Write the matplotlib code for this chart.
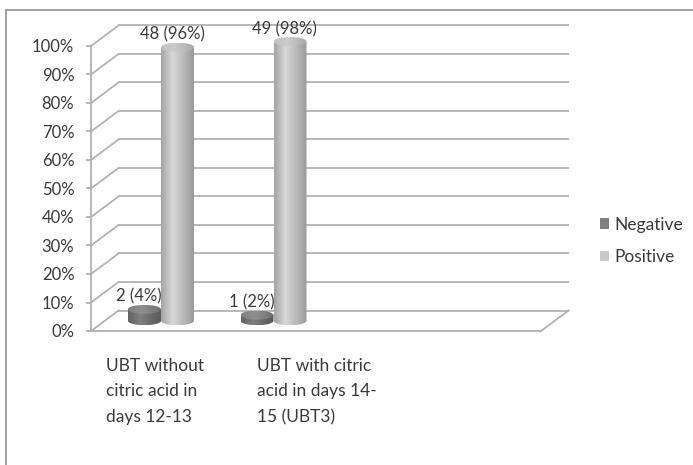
import numpy as np
import matplotlib
matplotlib.use("Agg")
import matplotlib.pyplot as plt
from matplotlib.patches import Polygon, Ellipse, Patch
from matplotlib.lines import Line2D

plt.rcParams['font.family'] = ['Lato', 'DejaVu Sans']

# ---- data ----
categories = ["UBT without\ncitric acid in\ndays 12-13",
              "UBT with citric\nacid in days 14-\n15 (UBT3)"]
series_names = ["Negative", "Positive"]
counts = {"Negative": [2, 1], "Positive": [48, 49]}
percents = {"Negative": [4, 2], "Positive": [96, 98]}
yticks = [0, 10, 20, 30, 40, 50, 60, 70, 80, 90, 100]

# ---- style ----
W, H = 693, 465
FLOOR_SLOTS = 4            # category slots along the floor
SLOT_PX = 112.5            # px per slot
X0_PX = 91                 # front-left corner of the plot box (px from left)
Y0_PX = 331                # front floor level (px from top)
PCT_PX = 2.85              # px per percent
DEPTH_X = 27.5 / SLOT_PX   # depth offset in slot units
DEPTH_Y = 20.5 / PCT_PX    # depth offset in percent units
CYL_W = 33 / SLOT_PX       # cylinder diameter
ELL_H = 9 / PCT_PX         # apparent height of cylinder end ellipses

grid_c = "#b2b2b2"
text_c = "#3a3a3a"
fs_small = 12
fs_big = 12.5

body_profiles = {
    "Negative": ([0.0, 0.35, 1.0], [0.38, 0.50, 0.34]),
    "Positive": ([0.0, 0.35, 1.0], [0.64, 0.85, 0.60]),
}
top_profiles = {
    "Negative": ([0.0, 0.4, 1.0], [0.50, 0.56, 0.44]),
    "Positive": ([0.0, 0.4, 1.0], [0.76, 0.80, 0.66]),
}
legend_colors = {"Negative": "#7f7f7f", "Positive": "#c8c8c8"}

fig = plt.figure(figsize=(W / 100, H / 100), dpi=100)
ax = fig.add_axes([0, 0, 1, 1])
ax.set_xlim(-X0_PX / SLOT_PX, (W - X0_PX) / SLOT_PX)
ax.set_ylim(-(H - Y0_PX) / PCT_PX, Y0_PX / PCT_PX)
ax.axis("off")

# chart frame
fig.add_artist(Line2D([6 / W, 1.0], [1 - 10 / H, 1 - 10 / H], color="#9a9a9a", lw=1.3))
fig.add_artist(Line2D([6 / W, 6 / W], [0.0, 1 - 10 / H], color="#9a9a9a", lw=1.3))

# back wall gridlines, left wall diagonals, ticks and labels
for v in yticks:
    ax.plot([DEPTH_X, FLOOR_SLOTS + DEPTH_X], [v + DEPTH_Y, v + DEPTH_Y],
            color=grid_c, lw=1.3, zorder=1, solid_capstyle="butt")
    ax.plot([0, DEPTH_X], [v, v + DEPTH_Y], color=grid_c, lw=1.3, zorder=1)
    ax.plot([-4 / SLOT_PX, 0], [v, v], color=grid_c, lw=1.3, zorder=1)
    ax.annotate(f"{v}%", (0, v), xytext=(-12, -1), textcoords="offset points",
                ha="right", va="center", fontsize=fs_small, color=text_c)

# front axis line and floor
ax.plot([0, 0], [0, yticks[-1]], color=grid_c, lw=1.3, zorder=1)
ax.plot([0, FLOOR_SLOTS], [0, 0], color=grid_c, lw=1.3, zorder=1)
ax.plot([FLOOR_SLOTS, FLOOR_SLOTS + DEPTH_X], [0, DEPTH_Y], color=grid_c, lw=1.3, zorder=1)


def gradient_fill(patch, x_left, x_right, y_bottom, y_top, profile, z):
    ax.add_patch(patch)
    t = np.linspace(0, 1, 200)
    g = np.interp(t, *profile)
    img = np.dstack([g, g, g]).reshape(1, -1, 3)
    im = ax.imshow(img, extent=[x_left, x_right, y_bottom, y_top],
                   aspect="auto", interpolation="bilinear", zorder=z)
    im.set_clip_path(patch)


def cylinder(xc, base, top, name, z):
    half = CYL_W / 2
    theta = np.linspace(0, -np.pi, 60)
    arc = np.column_stack([xc + half * np.cos(theta), base + ELL_H / 2 * np.sin(theta)])
    outline = np.vstack([[[xc - half, top], [xc + half, top], [xc + half, base]], arc])
    body = Polygon(outline, closed=True, facecolor="none", edgecolor="none", zorder=z)
    gradient_fill(body, xc - half, xc + half, base - ELL_H / 2, top,
                  body_profiles[name], z)
    cap = Ellipse((xc, top), CYL_W, ELL_H, facecolor="none", edgecolor="none", zorder=z + 0.1)
    gradient_fill(cap, xc - half, xc + half, top - ELL_H / 2, top + ELL_H / 2,
                  top_profiles[name], z + 0.1)


for i, cat in enumerate(categories):
    center = i + 0.5 + DEPTH_X / 2
    base = DEPTH_Y / 2
    for k, name in enumerate(series_names):
        xc = center + (k - 0.5) * CYL_W
        val = percents[name][i]
        top = base + val
        cylinder(xc, base, top, name, 3 + k)
        ax.annotate(f"{counts[name][i]} ({val}%)", (xc, top), xytext=(-4, 9),
                    textcoords="offset points", ha="center", va="center",
                    fontsize=fs_small, color=text_c, zorder=10)

# category labels under the floor
label_x = [0.133, 1.476]
for i, cat in enumerate(categories):
    ax.text(label_x[i], -9.5, cat, ha="left", va="top", fontsize=fs_big,
            color=text_c, linespacing=1.72)

handles = [Patch(facecolor=legend_colors[n], edgecolor="none", label=n) for n in series_names]
fig.legend(handles=handles, loc="center left", bbox_to_anchor=(584 / W, 1 - 241 / H),
           frameon=False, fontsize=fs_big, handlelength=0.55, handleheight=0.55,
           handletextpad=0.3, labelspacing=0.95, labelcolor=text_c)

fig.savefig("out.png", dpi=100)
